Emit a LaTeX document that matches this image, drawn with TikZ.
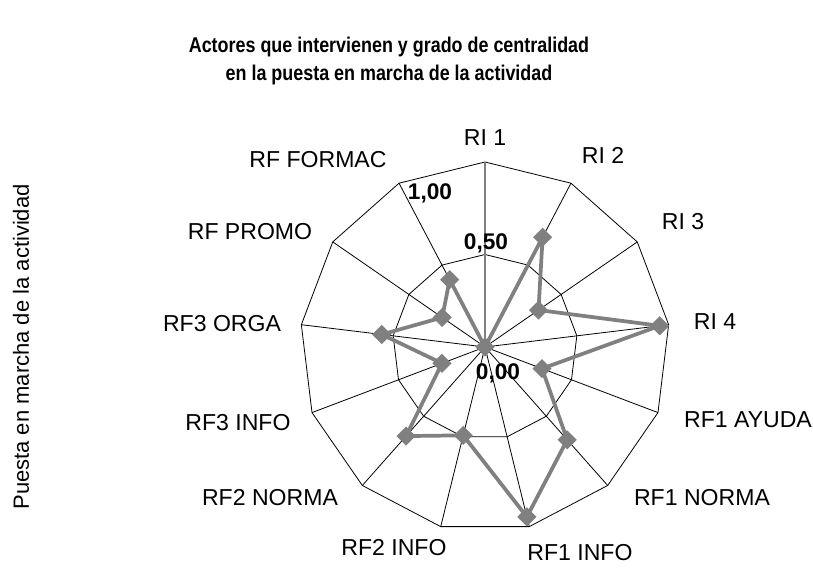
\documentclass[tikz,border=0pt]{standalone}
\usepackage{fontspec}
\setmainfont{Liberation Sans}
\usetikzlibrary{shapes.geometric}

\begin{document}
\begin{tikzpicture}[x=0.75pt, y=0.75pt,
  grid/.style = {draw=black, line width=0.6pt},
  serie/.style = {draw=gray, line width=2.8pt, line join=round},
  main/.style = {diamond, fill=gray, inner sep=0pt, minimum size=14.5pt},
  eje/.style = {font=\fontsize{17.3}{20}\selectfont},
  escala/.style = {font=\bfseries\fontsize{17}{20}\selectfont}]
  \useasboundingbox (-485,-223) rectangle (328,347);
  % vertices of the outer grid
  \coordinate (o) at (0,0);
  \coordinate (a0) at (90:185);
  \coordinate (a1) at (90-1*360/13:185);
  \coordinate (a2) at (90-2*360/13:185);
  \coordinate (a3) at (90-3*360/13:185);
  \coordinate (a4) at (90-4*360/13:185);
  \coordinate (a5) at (90-5*360/13:185);
  \coordinate (a6) at (90-6*360/13:185);
  \coordinate (a7) at (90-7*360/13:185);
  \coordinate (a8) at (90-8*360/13:185);
  \coordinate (a9) at (90-9*360/13:185);
  \coordinate (a10) at (90-10*360/13:185);
  \coordinate (a11) at (90-11*360/13:185);
  \coordinate (a12) at (90-12*360/13:185);
  % vertices of the 0,50 grid
  \coordinate (b0) at (90:92.5);
  \coordinate (b1) at (90-1*360/13:92.5);
  \coordinate (b2) at (90-2*360/13:92.5);
  \coordinate (b3) at (90-3*360/13:92.5);
  \coordinate (b4) at (90-4*360/13:92.5);
  \coordinate (b5) at (90-5*360/13:92.5);
  \coordinate (b6) at (90-6*360/13:92.5);
  \coordinate (b7) at (90-7*360/13:92.5);
  \coordinate (b8) at (90-8*360/13:92.5);
  \coordinate (b9) at (90-9*360/13:92.5);
  \coordinate (b10) at (90-10*360/13:92.5);
  \coordinate (b11) at (90-11*360/13:92.5);
  \coordinate (b12) at (90-12*360/13:92.5);
  \draw[grid] (a0) -- (a1) -- (a2) -- (a3) -- (a4) -- (a5) -- (a6) -- (a7) -- (a8) -- (a9) -- (a10) -- (a11) -- (a12) -- cycle;
  \draw[grid] (b0) -- (b1) -- (b2) -- (b3) -- (b4) -- (b5) -- (b6) -- (b7) -- (b8) -- (b9) -- (b10) -- (b11) -- (b12) -- cycle;
  \draw[grid, draw=gray, line width=1pt] (o) -- (a0);
  \draw[grid] (o) -- (a1);
  \draw[grid] (o) -- (a2);
  \draw[grid] (o) -- (a3);
  \draw[grid] (o) -- (a4);
  \draw[grid] (o) -- (a5);
  \draw[grid] (o) -- (a6);
  \draw[grid] (o) -- (a7);
  \draw[grid] (o) -- (a8);
  \draw[grid] (o) -- (a9);
  \draw[grid] (o) -- (a10);
  \draw[grid] (o) -- (a11);
  \draw[grid] (o) -- (a12);
  % data
  \node[main] (p0) at (0,0) {};
  \node[main] (p1) at (90-1*360/13:124) {};
  \node[main] (p2) at (90-2*360/13:65) {};
  \node[main] (p3) at (90-3*360/13:176) {};
  \node[main] (p4) at (90-4*360/13:61) {};
  \node[main] (p5) at (90-5*360/13:124) {};
  \node[main] (p6) at (90-6*360/13:175) {};
  \node[main] (p7) at (90-7*360/13:91) {};
  \node[main] (p8) at (90-8*360/13:119) {};
  \node[main] (p9) at (90-9*360/13:46) {};
  \node[main] (p10) at (90-10*360/13:104) {};
  \node[main] (p11) at (90-11*360/13:52) {};
  \node[main] (p12) at (90-12*360/13:76) {};
  \draw[serie] (p0.center) -- (p1.center) -- (p2.center) -- (p3.center) -- (p4.center) -- (p5.center) -- (p6.center) -- (p7.center) -- (p8.center) -- (p9.center) -- (p10.center) -- (p11.center) -- (p12.center) -- cycle;
  % scale
  \node[escala] (s100) at (-55,154) {1,00};
  \node[escala] (s050) at (1,104) {0,50};
  \node[escala] (s000) at (13,-26) {0,00};
  % axis labels
  \node[eje] (l0) at (0,209) {RI 1};
  \node[eje] (l1) at (118,192) {RI 2};
  \node[eje] (l2) at (198,125) {RI 3};
  \node[eje] (l3) at (230,25) {RI 4};
  \node[eje] (l4) at (263,-73) {RF1 AYUDA};
  \node[eje] (l5) at (217,-151) {RF1 NORMA};
  \node[eje] (l6) at (95,-206) {RF1 INFO};
  \node[eje] (l7) at (-91,-201) {RF2 INFO};
  \node[eje] (l8) at (-215,-151) {RF2 NORMA};
  \node[eje] (l9) at (-247,-76) {RF3 INFO};
  \node[eje] (l10) at (-263,23) {RF3 ORGA};
  \node[eje] (l11) at (-235,115) {RF PROMO};
  \node[eje] (l12) at (-167,187) {RF FORMAC};
  % titles
  \node[font=\bfseries\fontsize{16}{19}\selectfont] (titulo1) at (-96,300) {\scalebox{0.84}[1]{Actores que intervienen y grado de centralidad}};
  \node[font=\bfseries\fontsize{16}{19}\selectfont] (titulo2) at (-96,272) {\scalebox{0.84}[1]{en la puesta en marcha de la actividad}};
  \node[rotate=90, font=\fontsize{16.5}{19}\selectfont] (ytitulo) at (-464,0) {Puesta en marcha de la actividad};
\end{tikzpicture}
\end{document}
